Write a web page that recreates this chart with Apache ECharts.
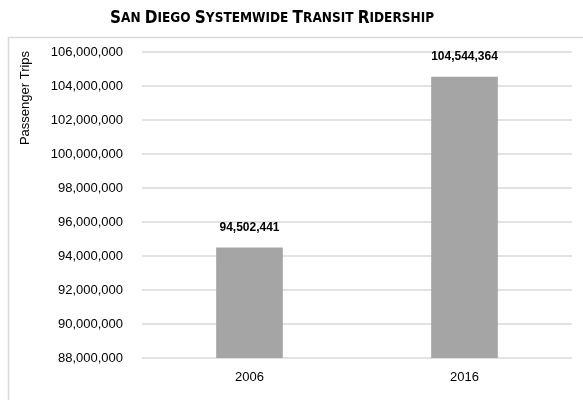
<!DOCTYPE html>
<html>
<head>
<meta charset="utf-8">
<script src="https://cdn.jsdelivr.net/npm/echarts@6/dist/echarts.min.js"></script>
<style>
  html, body { margin: 0; padding: 0; background: #fff; }
  #chart { width: 583px; height: 400px; }
</style>
</head>
<body>
<div id="chart"></div>
<script>
  const years = ['2006', '2016'];
  const ridership = [94502441, 104544364];
  const yMin = 88000000;
  const yMax = 106000000;
  const yStep = 2000000;
  const titleText = 'San Diego Systemwide Transit Ridership';
  const axisTitle = 'Passenger Trips';

  const condensed = '"DejaVu Sans Condensed", "Liberation Sans", sans-serif';
  const regular = '"Liberation Sans", Arial, sans-serif';

  // small caps title: first letter large, rest smaller
  const smallCaps = titleText.split(' ').map(w =>
    '{big|' + w[0].toUpperCase() + '}{small|' + w.slice(1).toUpperCase() + '}'
  ).join('{small| }');

  const fmt = v => v.toLocaleString('en-US');

  const chart = echarts.init(document.getElementById('chart'));
  chart.setOption({
    animation: false,
    backgroundColor: '#fff',
    title: {
      text: smallCaps,
      left: 105,
      top: 5,
      textStyle: {
        rich: {
          big: { fontFamily: condensed, fontWeight: 'bold', fontSize: 17, color: '#000' },
          small: { fontFamily: condensed, fontWeight: 'bold', fontSize: 13.5, color: '#000' }
        }
      }
    },
    graphic: [
      {
        type: 'rect',
        shape: { x: 8.5, y: 37.5, width: 700, height: 500 },
        style: { fill: 'none', stroke: '#d9d9d9', lineWidth: 1.5 },
        silent: true
      },
      {
        type: 'text',
        x: 25,
        y: 98,
        rotation: Math.PI / 2,
        style: {
          text: axisTitle,
          font: '13px ' + regular,
          fill: '#000',
          textAlign: 'center',
          textVerticalAlign: 'middle'
        }
      }
    ],
    grid: { left: 142, right: 11, top: 52, bottom: 42 },
    xAxis: {
      type: 'category',
      data: years,
      axisLine: { show: false },
      axisTick: { show: false },
      axisLabel: { fontFamily: regular, fontSize: 13, color: '#000', margin: 13 }
    },
    yAxis: {
      type: 'value',
      min: yMin,
      max: yMax,
      interval: yStep,
      axisLine: { show: false },
      axisTick: { show: false },
      axisLabel: { fontFamily: regular, fontSize: 13, color: '#000', margin: 19, formatter: fmt },
      splitLine: { lineStyle: { color: '#d9d9d9', width: 1.5 } }
    },
    series: [{
      type: 'bar',
      data: ridership,
      barWidth: '31%',
      itemStyle: { color: '#a5a5a5' },
      label: {
        show: true,
        position: 'top',
        distance: 14,
        fontFamily: regular,
        fontWeight: 'bold',
        fontSize: 12,
        color: '#000',
        formatter: p => fmt(p.value)
      }
    }]
  });
</script>
</body>
</html>
